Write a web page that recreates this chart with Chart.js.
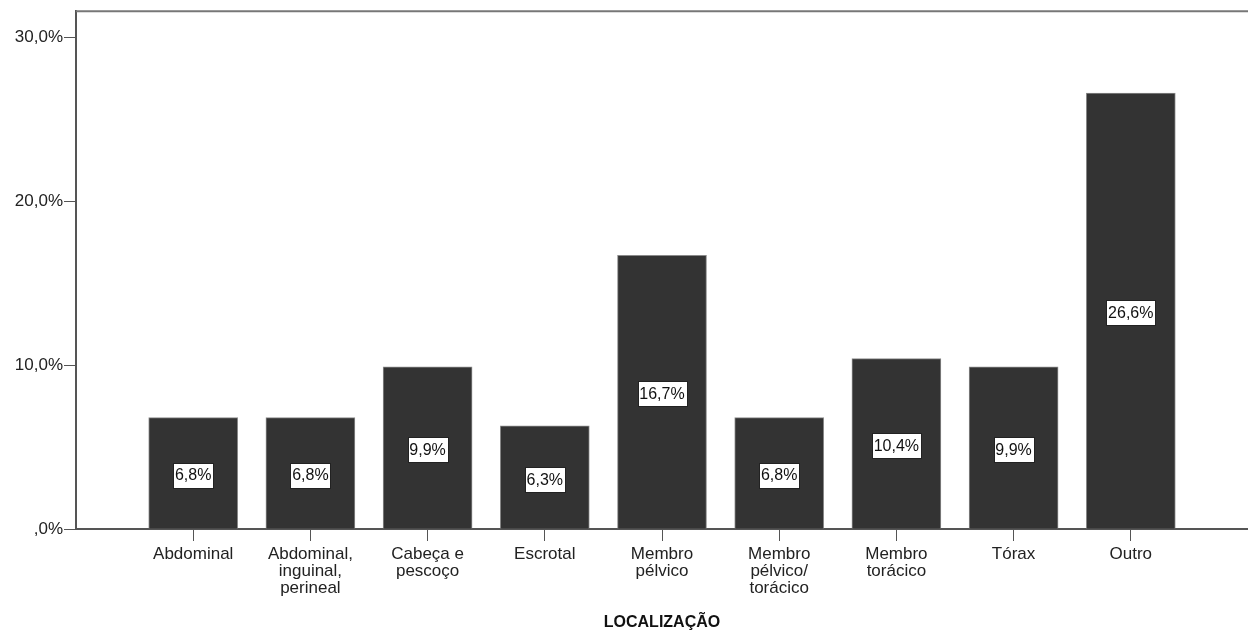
<!DOCTYPE html>
<html>
<head>
<meta charset="utf-8">
<script src="https://cdn.jsdelivr.net/npm/chart.js@4/dist/chart.umd.min.js"></script>
<style>
  html, body { margin: 0; padding: 0; background: #fff; }
  #wrap { width: 1248px; height: 635px; }
</style>
</head>
<body>
<div id="wrap"><canvas id="myChart"></canvas></div>
<script>
// categories and percentages
var categories = [
  ['Abdominal'],
  ['Abdominal,', 'inguinal,', 'perineal'],
  ['Cabeça e', 'pescoço'],
  ['Escrotal'],
  ['Membro', 'pélvico'],
  ['Membro', 'pélvico/', 'torácico'],
  ['Membro', 'torácico'],
  ['Tórax'],
  ['Outro']
];
var percentages = [6.8, 6.8, 9.9, 6.3, 16.7, 6.8, 10.4, 9.9, 26.6];
var yTicks = [0, 10, 20, 30];

var FONT = '"Liberation Sans", Arial, sans-serif';

function pct(v) {
  if (v === 0) return ',0%';
  return v.toFixed(1).replace('.', ',') + '%';
}

// white boxed value labels in the middle of each bar
var barLabels = {
  id: 'barLabels',
  afterDatasetsDraw: function(chart) {
    var ctx = chart.ctx;
    var meta = chart.getDatasetMeta(0);
    ctx.save();
    ctx.font = '16px ' + FONT;
    ctx.textAlign = 'center';
    ctx.textBaseline = 'middle';
    meta.data.forEach(function(bar, i) {
      var txt = pct(percentages[i]);
      var cy = (bar.y + bar.base) / 2 + 2;
      var w = Math.round(ctx.measureText(txt).width + 4);
      var h = 25;
      var x0 = Math.round(bar.x - w / 2) + 0.5;
      var y0 = Math.round(cy - h / 2) + 0.5;
      ctx.fillStyle = '#fff';
      ctx.fillRect(x0, y0, w, h);
      ctx.strokeStyle = '#222';
      ctx.lineWidth = 1;
      ctx.strokeRect(x0, y0, w, h);
      ctx.fillStyle = '#111';
      ctx.fillText(txt, bar.x, cy + 1);
    });
    ctx.restore();
  }
};

// top frame line
var topLine = {
  id: 'topLine',
  afterDraw: function(chart) {
    var a = chart.chartArea;
    var ctx = chart.ctx;
    ctx.save();
    ctx.strokeStyle = '#777';
    ctx.lineWidth = 2;
    ctx.beginPath();
    ctx.moveTo(a.left, a.top);
    ctx.lineTo(chart.width, a.top);
    ctx.stroke();
    ctx.restore();
  }
};

var ctx = document.getElementById('myChart').getContext('2d');
var myChart = new Chart(ctx, {
  type: 'bar',
  data: {
    datasets: [{
      data: percentages.map(function(v, i) { return { x: i, y: v }; }),
      backgroundColor: '#333333',
      borderColor: '#8a8a8a',
      borderWidth: 1,
      borderSkipped: 'bottom',
      barThickness: 89
    }]
  },
  plugins: [barLabels, topLine],
  options: {
    responsive: true,
    maintainAspectRatio: false,
    animation: false,
    layout: { padding: { top: 8, right: 0, left: 0, bottom: 0 } },
    plugins: {
      legend: { display: false },
      tooltip: { enabled: false }
    },
    scales: {
      x: {
        type: 'linear',
        min: -1,
        max: 9,
        offset: false,
        afterBuildTicks: function(scale) {
          scale.ticks = categories.map(function(c, i) { return { value: i }; });
        },
        afterFit: function(scale) { scale.height = 106; },
        border: { display: true, color: '#555', width: 2 },
        grid: { offset: false, drawOnChartArea: false, drawTicks: true, tickLength: 12, color: '#555', lineWidth: 1 },
        ticks: {
          autoSkip: false,
          maxRotation: 0,
          padding: 5,
          color: '#222',
          font: { family: FONT, size: 17, lineHeight: 1.0 },
          callback: function(v) { return categories[v]; }
        },
        title: {
          display: true,
          text: 'LOCALIZAÇÃO',
          color: '#111',
          font: { family: FONT, size: 16, weight: 'bold' },
          padding: { top: 0, bottom: 3 }
        }
      },
      y: {
        min: 0,
        max: 31.6,
        afterBuildTicks: function(scale) {
          scale.ticks = yTicks.map(function(v) { return { value: v }; });
        },
        afterFit: function(scale) { scale.width = 76; },
        border: { display: true, color: '#555', width: 2 },
        grid: { drawOnChartArea: false, drawTicks: true, tickLength: 12, color: '#555', lineWidth: 1 },
        ticks: {
          padding: 1,
          color: '#222',
          font: { family: FONT, size: 17 },
          callback: function(v) { return pct(v); }
        }
      }
    }
  }
});
</script>
</body>
</html>
